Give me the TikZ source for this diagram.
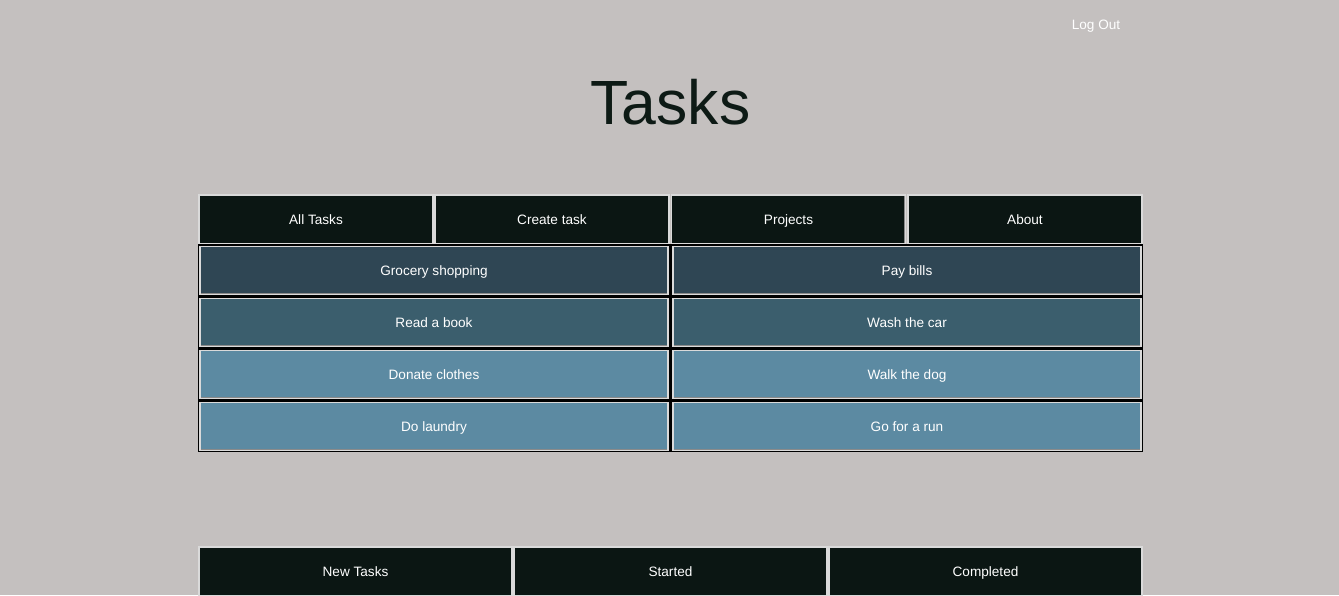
\documentclass[tikz,border=0pt]{standalone}
\usepackage{fontspec}
\setmainfont{Liberation Sans}
\definecolor{pagebg}{HTML}{C4C0BF}
\definecolor{navfill}{HTML}{0B1613}
\definecolor{rowone}{HTML}{2F4654}
\definecolor{rowtwo}{HTML}{3B5E6D}
\definecolor{rowthree}{HTML}{5C8AA2}
\definecolor{edgelight}{HTML}{DADADA}
\definecolor{edgedark}{HTML}{8A8A8A}
\definecolor{titleink}{HTML}{0D1A15}
\begin{document}
\begin{tikzpicture}[x=1pt, y=-1pt,
	label text/.style={text=white, font=\fontsize{13.6}{16}\selectfont,
		text height=9.5pt, text depth=0.5pt},
	outset/.style={draw=edgelight, line width=1.2pt,
		path picture={\draw[edgedark, line width=3pt]
			(path picture bounding box.south west) -- (path picture bounding box.south east)
			-- (path picture bounding box.north east);}},
	btn/.style={outset, label text, fill=navfill, inner sep=0pt},
	navbtn/.style={btn, minimum width=234pt, minimum height=49pt},
	tabbtn/.style={btn, minimum width=313pt, minimum height=49pt},
	cell/.style={outset, label text, inner sep=0pt, minimum width=468pt, minimum height=48pt}]
	\useasboundingbox[fill=pagebg] (0,0) rectangle (1339,595);
	
	\node[label text] (logout) at (1096,24.5) {Log Out};
	\node[text=titleink, font=\fontsize{62.5}{70}\selectfont] (title) at (670.5,102) {Tasks};
	
	\node[navbtn] (alltasks) at (316,219.5) {All Tasks};
	\node[navbtn] (create) at (552,219.5) {Create task};
	\node[navbtn] (projects) at (788.5,219.5) {Projects};
	\node[navbtn] (about) at (1025,219.5) {About};
	
	\fill[black] (198,244) rectangle (1143,452);
	
	\node[cell, fill=rowone] (grocery) at (434,270.5) {Grocery shopping};
	\node[cell, fill=rowone] (bills) at (907,270.5) {Pay bills};
	\node[cell, fill=rowtwo] (book) at (434,322.5) {Read a book};
	\node[cell, fill=rowtwo] (car) at (907,322.5) {Wash the car};
	\node[cell, fill=rowthree] (clothes) at (434,374.5) {Donate clothes};
	\node[cell, fill=rowthree] (dog) at (907,374.5) {Walk the dog};
	\node[cell, fill=rowthree] (laundry) at (434,426.5) {Do laundry};
	\node[cell, fill=rowthree] (run) at (907,426.5) {Go for a run};
	
	\node[tabbtn] (newtasks) at (355.5,571.5) {New Tasks};
	\node[tabbtn] (started) at (670.5,571.5) {Started};
	\node[tabbtn] (completed) at (985.5,571.5) {Completed};
\end{tikzpicture}
\end{document}
